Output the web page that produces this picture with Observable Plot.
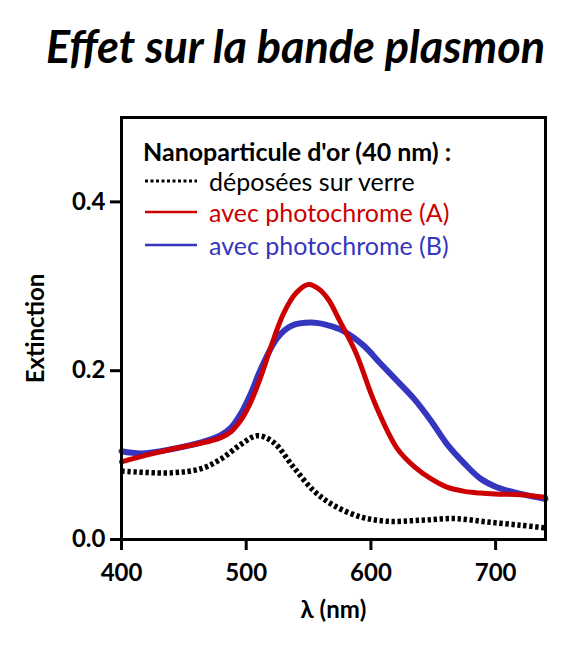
<!DOCTYPE html>
<html>
<head>
<meta charset="utf-8">
<script src="https://cdn.jsdelivr.net/npm/d3@7"></script>
<script src="https://cdn.jsdelivr.net/npm/@observablehq/plot@0.6"></script>
<style>
  html, body { margin: 0; padding: 0; background: white; }
  #wrap { position: relative; width: 585px; height: 647px; font-family: Lato, "Open Sans", sans-serif; }
  #title { height: 90px; text-align: center; font-weight: bold; font-style: italic; font-size: 45px; line-height: 92px; color: #000; padding-left: 6px; box-sizing: border-box; }
  #legend { position: absolute; left: 0; top: 0; width: 585px; height: 300px; pointer-events: none; }
  #legend .row { position: absolute; height: 30px; line-height: 30px; white-space: nowrap; font-size: 25px; }
  #legend .head { font-weight: bold; color: #000; }
  #legend svg { position: absolute; }
</style>
</head>
<body>
<div id="wrap">
  <div id="title">Effet sur la bande plasmon</div>
  <div id="chart"></div>
  <div id="legend"></div>
</div>
<script>
// Gold nanoparticle (40 nm) extinction spectra
const legendTitle = "Nanoparticule d'or (40 nm) :";
const seriesNames = ["déposées sur verre", "avec photochrome (A)", "avec photochrome (B)"];
const seriesColors = ["#000000", "#cc0000", "#3535bf"];

// on glass (dotted)
const lambdaGlass = [400, 440, 464, 480, 496, 509, 522, 538, 554, 570, 592, 613, 640, 667, 693, 720, 740];
const extGlass = [0.081, 0.079, 0.084, 0.0956, 0.113, 0.123, 0.115, 0.0857, 0.058, 0.0405, 0.0267, 0.0216, 0.0228, 0.0248, 0.0208, 0.0169, 0.0137];

// with photochrome (A)
const lambdaA = [400, 420, 440, 460, 472, 480, 488, 496, 504, 512, 520, 530, 540, 550, 558, 566, 575, 588, 603, 621, 635, 648, 661, 675, 688, 700, 720, 740];
const extA = [0.092, 0.100, 0.107, 0.113, 0.117, 0.121, 0.128, 0.142, 0.164, 0.194, 0.229, 0.268, 0.292, 0.302, 0.297, 0.284, 0.259, 0.221, 0.162, 0.108, 0.086, 0.072, 0.062, 0.057, 0.055, 0.054, 0.053, 0.050];

// with photochrome (B)
const lambdaB = [400, 416, 440, 464, 480, 488, 496, 504, 512, 525, 536, 552, 565, 578, 594, 608, 621, 635, 648, 661, 675, 688, 701, 720, 740];
const extB = [0.1045, 0.102, 0.107, 0.115, 0.124, 0.133, 0.150, 0.174, 0.203, 0.239, 0.253, 0.257, 0.254, 0.247, 0.230, 0.208, 0.188, 0.166, 0.141, 0.113, 0.090, 0.072, 0.062, 0.054, 0.048];

const xTicks = [400, 500, 600, 700];
const yTicks = [0.0, 0.2, 0.4];

const toRows = (xs, ys) => xs.map((x, i) => ({lambda: x, ext: ys[i]}));
const glass = toRows(lambdaGlass, extGlass);
const rowsA = toRows(lambdaA, extA);
const rowsB = toRows(lambdaB, extB);

const chart = Plot.plot({
  width: 585,
  height: 557,
  marginTop: 27,
  marginBottom: 108,
  marginLeft: 121,
  marginRight: 40,
  style: {fontFamily: "Lato, 'Open Sans', sans-serif", fontWeight: "bold", fontSize: "24px", color: "#000", background: "white"},
  x: {domain: [400, 740]},
  y: {domain: [0, 0.5]},
  marks: [
    Plot.line(glass, {x: "lambda", y: "ext", stroke: seriesColors[0], strokeWidth: 5.5, strokeDasharray: "3.4,2.6", strokeLinecap: "butt", strokeLinejoin: "miter", curve: "catmull-rom"}),
    Plot.line(rowsB, {x: "lambda", y: "ext", stroke: seriesColors[2], strokeWidth: 6, curve: "catmull-rom"}),
    Plot.line(rowsA, {x: "lambda", y: "ext", stroke: seriesColors[1], strokeWidth: 5, curve: "catmull-rom"}),
    Plot.frame({stroke: "#000", strokeWidth: 3}),
    Plot.axisX({ticks: xTicks, tickSize: 11, tickPadding: 13, strokeWidth: 3, label: "λ (nm)", labelAnchor: "center", labelArrow: "none", labelOffset: 78}),
    Plot.axisY({ticks: yTicks, tickFormat: d3.format(".1f"), tickSize: 11, tickPadding: 5, strokeWidth: 3, label: "Extinction", labelAnchor: "center", labelArrow: "none", labelOffset: 95})
  ]
});
document.getElementById("chart").appendChild(chart);

// Legend drawn inside the plot frame
const legend = document.getElementById("legend");
const head = document.createElement("div");
head.className = "row head";
head.style.left = "143px";
head.style.top = (151 - 15) + "px";
head.textContent = legendTitle;
legend.appendChild(head);

const rowY = [181, 212, 245];
seriesNames.forEach((name, i) => {
  const s = d3.create("svg").attr("width", 54).attr("height", 10)
    .style("left", "145px").style("top", (rowY[i] - 5) + "px");
  s.append("line").attr("x1", 0).attr("x2", 52).attr("y1", 5).attr("y2", 5)
    .attr("stroke", seriesColors[i]).attr("stroke-width", i === 0 ? 3 : 2.5)
    .attr("stroke-dasharray", i === 0 ? "3,2.5" : null);
  legend.appendChild(s.node());
  const t = document.createElement("div");
  t.className = "row";
  t.style.left = "209px";
  t.style.top = (rowY[i] - 15) + "px";
  t.style.color = i === 0 ? "#000" : seriesColors[i];
  t.textContent = name;
  legend.appendChild(t);
});
</script>
</body>
</html>
